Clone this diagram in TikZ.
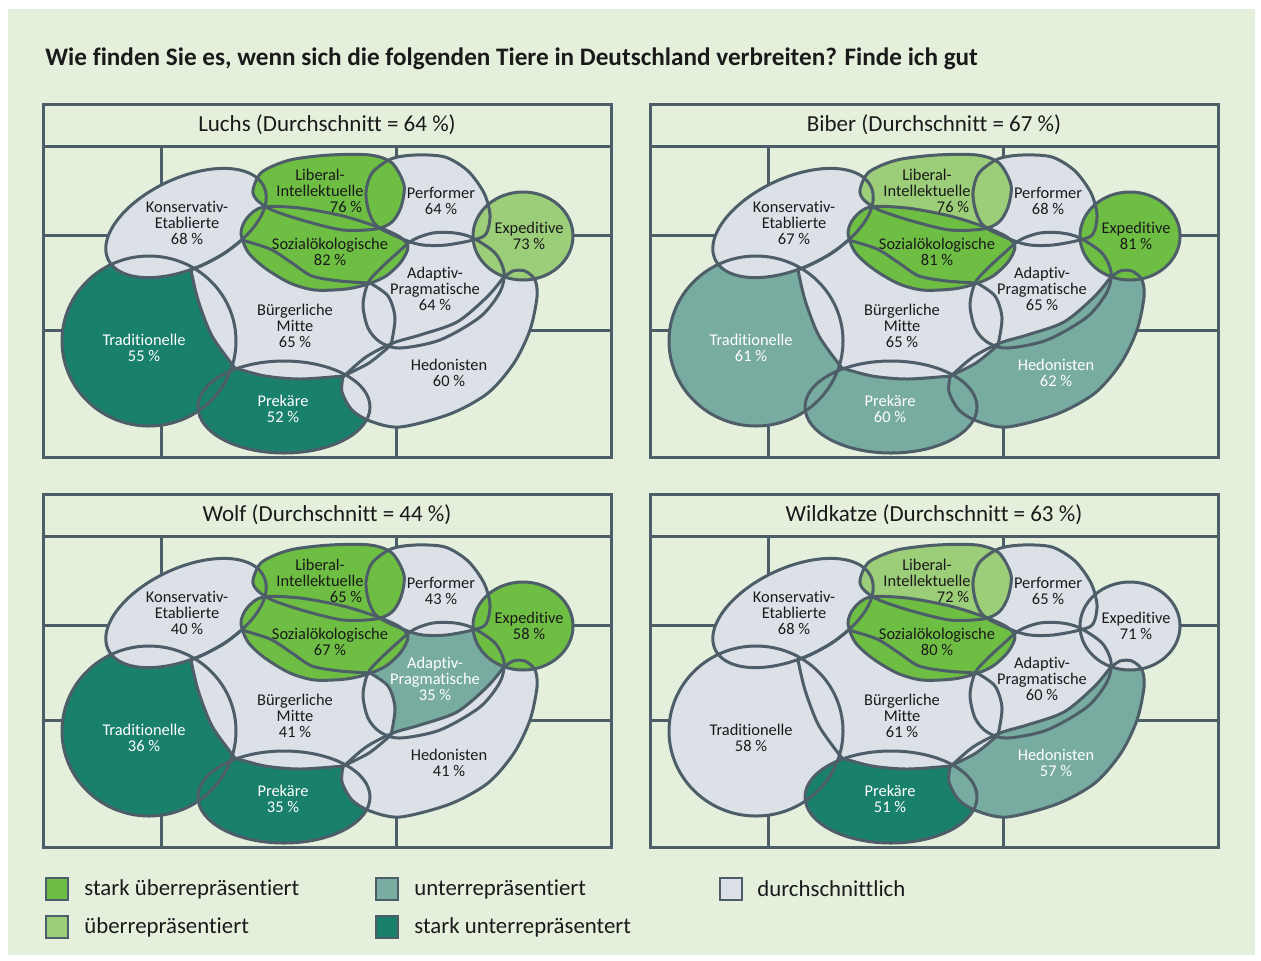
\documentclass[tikz,border=0pt]{standalone}
\usepackage{fontspec}
\setmainfont{Carlito}[Ligatures={NoCommon}]
\definecolor{bggreen}{HTML}{E4F0DC}
\definecolor{cgr}{HTML}{DCE0E7}
\definecolor{csu}{HTML}{6EBE44}
\definecolor{cue}{HTML}{9CCD78}
\definecolor{cun}{HTML}{78ACA0}
\definecolor{csun}{HTML}{19806B}
\definecolor{tgr}{HTML}{1A1A1A}
\colorlet{tsu}{tgr}
\colorlet{tue}{tgr}
\definecolor{tun}{HTML}{FFFFFF}
\colorlet{tsun}{tun}
\definecolor{linec}{HTML}{4D5E69}
\tikzset{
  frame/.style={draw=linec, line width=1.5pt},
  blob/.style={draw=linec, line width=1.5pt, line join=round},
  lbl/.style={align=center, inner sep=0pt, font=\fontsize{8.2}{8}\selectfont},
  ptitle/.style={inner sep=0pt, font=\fontsize{11.5}{13}\selectfont, text=tgr},
  legtxt/.style={anchor=west, inner sep=0pt, font=\fontsize{11.4}{13}\selectfont, text=tgr},
  legbox/.style={draw=linec, line width=0.8pt},
}
\newcommand\setcat[3]{\expandafter\def\csname Fill#1\endcsname{c#2}\expandafter\def\csname Txt#1\endcsname{t#2}\expandafter\def\csname Val#1\endcsname{#3}}
% shapes (pixel coordinates of the first panel)
\def\pT{(149,341) ellipse [x radius=87, y radius=85]}
\def\pPr{(284,407) ellipse [x radius=86, y radius=46]}
\def\pE{(523,236) ellipse [x radius=50, y radius=44]}
\def\pK{plot[domain=0:360,samples=73,smooth,variable=\t] ({186+86*cos(\t)*0.9063-45*sin(\t)*0.4226},{223-86*cos(\t)*0.4226-45*sin(\t)*0.9063}) -- cycle}
\def\pM{(191,270) -- plot[smooth] coordinates {(191,270) (198,300) (212,336) (235,368)} -- plot[smooth] coordinates {(235,368) (265,376) (300,379) (343,376)} -- plot[smooth] coordinates {(343,376) (369,363) (391,345)} -- plot[smooth] coordinates {(391,345) (395,318) (388,296) (370,283)} -- plot[smooth] coordinates {(370,283) (340,281) (312,276) (292,263) (270,249) (241.5,240)} -- plot[smooth] coordinates {(241.5,240) (225,253) (205,264) (191,270)} -- cycle}
\def\pS{plot[smooth cycle] coordinates {(241,233) (247,218) (263,207) (300,208) (343,216) (378,227) (400,237) (408,247) (401,262) (386,276) (368,284) (346,289) (315,290) (290,283) (265,268) (248,252)}}
\def\pL{plot[smooth cycle] coordinates {(253,190) (262,172) (290,160) (330,155) (370,155) (392,163) (404,185) (401,207) (392,222) (376,229) (343,230) (305,221) (272,210) (257,200)}}
\def\pP{plot[smooth cycle] coordinates {(378,227) (369,212) (366,192) (372,173) (391,159) (415,155) (445,157) (468,171) (484,193) (490,215) (486,234) (473,240) (446,245) (423,245) (405,240)}}
\def\pA{plot[smooth cycle] coordinates {(368,283) (363,305) (368,328) (380,342) (400,348) (440,340) (480,317) (500,292) (504,272) (495,253) (473,238) (455,233) (433,233) (413,240) (395,255) (379,270)}}
\def\pH{(343,377) -- plot[smooth] coordinates {(343,377) (342,392) (352,410) (370,421) (400,427) (450,414) (488,393) (514,363) (530,330) (537,297) (535,280) (525,271) (513,271) (503,278)} -- plot[smooth] coordinates {(503,278) (487,297) (457,322) (420,335) (393,343) (366,357) (343,377)} -- cycle}
\newcommand\drawpanel[2]{%
  \draw[frame] (43,104) rectangle (611,457);
  \draw[frame] (43,146) -- (611,146);
  \draw[frame] (161,146) -- (161,457) (396,146) -- (396,457) (43,235) -- (611,235) (43,330) -- (611,330);
  \node[ptitle] (#2title) at (327,125) {#1};
  \fill[fill=\FillT] \pT;
  \fill[fill=\FillPr] \pPr;
  \fill[fill=\FillA] \pA;
  \fill[fill=\FillH] \pH;
  \fill[fill=\FillM] \pM;
  \fill[fill=\FillK] \pK;
  \fill[fill=\FillP] \pP;
  \fill[fill=\FillL] \pL;
  \fill[fill=\FillS] \pS;
  \fill[fill=\FillE] \pE;
  \draw[blob] \pT; \draw[blob] \pPr; \draw[blob] \pA; \draw[blob] \pH; \draw[blob] \pM;
  \draw[blob] \pK; \draw[blob] \pP; \draw[blob] \pL; \draw[blob] \pS; \draw[blob] \pE;
  \node[lbl,text=\TxtK] (#2k) at (187,223) {Konservativ-\\Etablierte\\\ValK~\%};
  \node[lbl,text=\TxtL] (#2l) at (320,183) {Liberal-\\Intellektuelle};
  \node[lbl,text=\TxtL] (#2lv) at (346,207) {\ValL~\%};
  \node[lbl,text=\TxtP] (#2p) at (441,201) {Performer\\\ValP~\%};
  \node[lbl,text=\TxtE] (#2e) at (529,236) {Expeditive\\\ValE~\%};
  \node[lbl,text=\TxtS] (#2s) at (330,252) {Sozialökologische\\\ValS~\%};
  \node[lbl,text=\TxtA] (#2a) at (435,289) {Adaptiv-\\Pragmatische\\\ValA~\%};
  \node[lbl,text=\TxtM] (#2m) at (295,326) {Bürgerliche\\Mitte\\\ValM~\%};
  \node[lbl,text=\TxtT] (#2t) at (144,348) {Traditionelle\\\ValT~\%};
  \node[lbl,text=\TxtPr] (#2pr) at (283,409) {Prekäre\\\ValPr~\%};
  \node[lbl,text=\TxtH] (#2h) at (449,373) {Hedonisten\\\ValH~\%};
}
\begin{document}
\begin{tikzpicture}[x=0.5pt,y=-0.5pt]
\useasboundingbox (0,0) rectangle (1261,960);
\fill[white] (0,0) rectangle (1261,960);
\fill[bggreen] (8,9) rectangle (1255,955);
\node[anchor=west, inner sep=0pt, font=\fontsize{12.6}{14}\selectfont\bfseries, text=tgr] (maintitle) at (45,59) {Wie finden Sie es, wenn sich die folgenden Tiere in Deutschland verbreiten? Finde ich gut};
% Panel 1: Luchs
\begin{scope}
  \setcat{K}{gr}{68}\setcat{L}{su}{76}\setcat{P}{gr}{64}\setcat{E}{ue}{73}\setcat{S}{su}{82}%
  \setcat{A}{gr}{64}\setcat{M}{gr}{65}\setcat{T}{sun}{55}\setcat{Pr}{sun}{52}\setcat{H}{gr}{60}%
  \drawpanel{Luchs (Durchschnitt = 64 \%)}{a}
\end{scope}
% Panel 2: Biber
\begin{scope}[shift={(607,0)}]
  \setcat{K}{gr}{67}\setcat{L}{ue}{76}\setcat{P}{gr}{68}\setcat{E}{su}{81}\setcat{S}{su}{81}%
  \setcat{A}{gr}{65}\setcat{M}{gr}{65}\setcat{T}{un}{61}\setcat{Pr}{un}{60}\setcat{H}{un}{62}%
  \drawpanel{Biber (Durchschnitt = 67 \%)}{b}
\end{scope}
% Panel 3: Wolf
\begin{scope}[shift={(0,390)}]
  \setcat{K}{gr}{40}\setcat{L}{su}{65}\setcat{P}{gr}{43}\setcat{E}{su}{58}\setcat{S}{su}{67}%
  \setcat{A}{un}{35}\setcat{M}{gr}{41}\setcat{T}{sun}{36}\setcat{Pr}{sun}{35}\setcat{H}{gr}{41}%
  \drawpanel{Wolf (Durchschnitt = 44 \%)}{c}
\end{scope}
% Panel 4: Wildkatze
\begin{scope}[shift={(607,390)}]
  \setcat{K}{gr}{68}\setcat{L}{ue}{72}\setcat{P}{gr}{65}\setcat{E}{gr}{71}\setcat{S}{su}{80}%
  \setcat{A}{gr}{60}\setcat{M}{gr}{61}\setcat{T}{gr}{58}\setcat{Pr}{sun}{51}\setcat{H}{un}{57}%
  \drawpanel{Wildkatze (Durchschnitt = 63 \%)}{d}
\end{scope}
% Legend
\draw[legbox, fill=csu] (46,878) rectangle (68,900);
\node[legtxt] (leg1) at (84,889) {stark überrepräsentiert};
\draw[legbox, fill=cue] (46,916) rectangle (68,938);
\node[legtxt] (leg2) at (84,927) {überrepräsentiert};
\draw[legbox, fill=cun] (376,878) rectangle (398,900);
\node[legtxt] (leg3) at (414,889) {unterrepräsentiert};
\draw[legbox, fill=csun] (376,916) rectangle (398,938);
\node[legtxt] (leg4) at (414,927) {stark unterrepräsentert};
\draw[legbox, fill=cgr] (720,878) rectangle (742,900);
\node[legtxt] (leg5) at (757,889) {durchschnittlich};
\end{tikzpicture}
\end{document}
